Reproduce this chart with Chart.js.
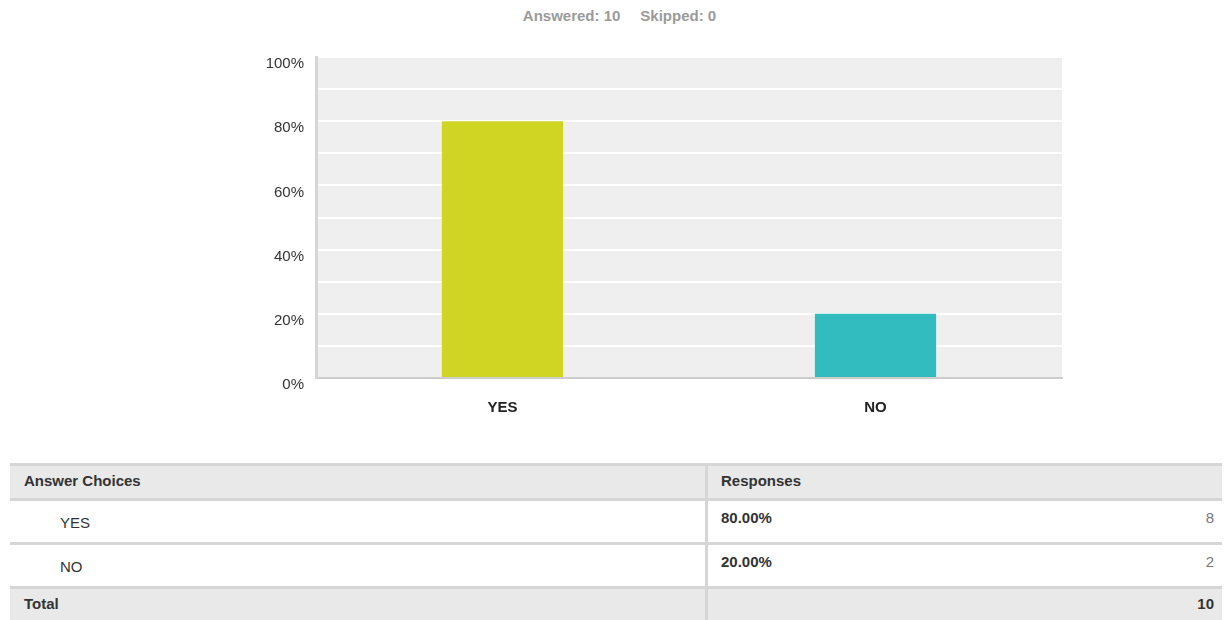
<!DOCTYPE html>
<html>
<head>
<meta charset="utf-8">
<script src="https://cdn.jsdelivr.net/npm/chart.js@4/dist/chart.umd.min.js"></script>
<style>
  body { margin: 0; background: #fff; font-family: "Liberation Sans", Arial, sans-serif; }
  #wrap { position: relative; width: 1225px; height: 620px; overflow: hidden; }
  #resumen { position: absolute; top: 7px; left: 0; width: 1239px; text-align: center; font-size: 15px; font-weight: bold; color: #9a9a9a; }
  #resumen span { margin: 0 10px; }
  #cajaGrafico { position: absolute; left: 0; top: 0; width: 1225px; height: 440px; }
  .celda { position: absolute; box-sizing: border-box; font-size: 15px; color: #333; }
  .linea { position: absolute; background: #d6d6d6; }
</style>
</head>
<body>
<div id="wrap">
  <div id="resumen"><span>Answered: 10</span><span>Skipped: 0</span></div>
  <div id="cajaGrafico"><canvas id="grafico1"></canvas></div>
  <div id="tabla"></div>
</div>
<script>
const opciones = ['YES', 'NO'];
const porcentajes = [80, 20];
const respuestas = [8, 2];
const total = 10;
const colores = ['#d0d524', '#33bcbf'];
const ticksY = [0, 10, 20, 30, 40, 50, 60, 70, 80, 90, 100];

const fondoArea = {
  id: 'fondoArea',
  beforeDraw(chart) {
    const { ctx, chartArea } = chart;
    ctx.save();
    ctx.fillStyle = '#efefef';
    ctx.fillRect(chartArea.left, chartArea.top, chartArea.right - chartArea.left, chartArea.bottom - chartArea.top);
    ctx.restore();
  }
};

const Grafico = document.getElementById('grafico1').getContext('2d');

window.graficaRespuestas = new Chart(Grafico, {
  type: 'bar',
  data: {
    labels: opciones,
    datasets: [{
      data: porcentajes,
      backgroundColor: colores,
      categoryPercentage: 1,
      barPercentage: 0.325
    }]
  },
  options: {
    responsive: true,
    maintainAspectRatio: false,
    animation: false,
    layout: { padding: { left: 250, right: 163, top: 57, bottom: 0 } },
    plugins: { legend: { display: false }, tooltip: { enabled: false } },
    scales: {
      x: {
        grid: { display: false },
        border: { color: '#cccccc', width: 2 },
        ticks: { color: '#222', padding: 13, font: { family: 'Liberation Sans', size: 15, weight: 'bold' } },
        afterFit(scale) { scale.height = 62; }
      },
      y: {
        min: 0,
        max: 100,
        afterBuildTicks(scale) { scale.ticks = ticksY.map(v => ({ value: v })); },
        grid: { color: '#ffffff', lineWidth: 2, drawTicks: false },
        border: { color: '#d6d6d6', width: 3 },
        ticks: {
          color: '#333',
          padding: 12,
          labelOffset: 7,
          font: { family: 'Liberation Sans', size: 15 },
          callback: v => (v % 20 === 0 ? v + '%' : '')
        },
        afterFit(scale) { scale.width = 66; }
      }
    }
  },
  plugins: [fondoArea]
});

// tabla de respuestas
const tabla = document.getElementById('tabla');
const izq = 10, der = 1222, div = 705;
const filas = [
  { top: 466, bottom: 498, fondo: '#e9e9e9' },
  { top: 500, bottom: 542, fondo: '#ffffff' },
  { top: 544, bottom: 586, fondo: '#ffffff' },
  { top: 588, bottom: 622, fondo: '#e9e9e9' }
];

function agregar(html) { tabla.insertAdjacentHTML('beforeend', html); }

filas.forEach(f => {
  agregar(`<div class="celda" style="left:${izq}px;top:${f.top}px;width:${der - izq}px;height:${f.bottom - f.top}px;background:${f.fondo}"></div>`);
});
[463, 498, 542, 586].forEach(y => {
  agregar(`<div class="linea" style="left:${izq}px;top:${y}px;width:${der - izq}px;height:3px"></div>`);
});
agregar(`<div class="linea" style="left:${div}px;top:463px;width:3px;height:160px"></div>`);

agregar(`<div class="celda" style="left:24px;top:472px;font-weight:bold">Answer Choices</div>`);
agregar(`<div class="celda" style="left:721px;top:472px;font-weight:bold">Responses</div>`);

opciones.forEach((op, i) => {
  const f = filas[i + 1];
  agregar(`<div class="celda" style="left:60px;top:${f.top + 14}px">${op}</div>`);
  agregar(`<div class="celda" style="left:721px;top:${f.top + 9}px;font-weight:bold">${porcentajes[i].toFixed(2)}%</div>`);
  agregar(`<div class="celda" style="right:${1225 - 1214}px;top:${f.top + 9}px;color:#777">${respuestas[i]}</div>`);
});

agregar(`<div class="celda" style="left:24px;top:595px;font-weight:bold">Total</div>`);
agregar(`<div class="celda" style="right:${1225 - 1214}px;top:595px;font-weight:bold">${total}</div>`);
</script>
</body>
</html>
